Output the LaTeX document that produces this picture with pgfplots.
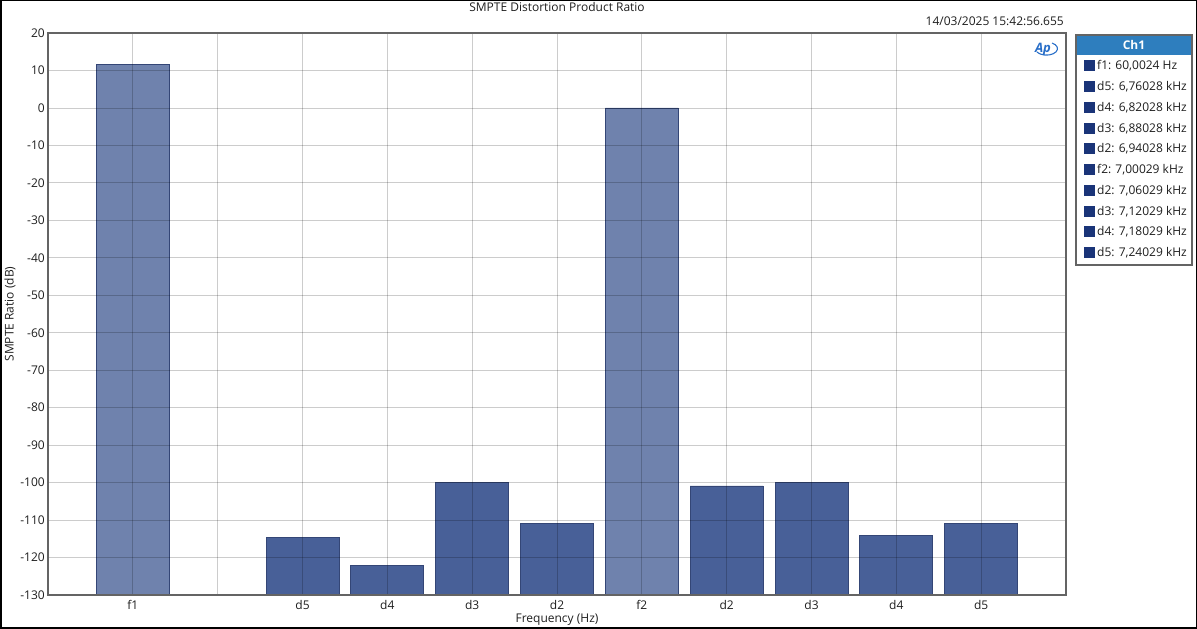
\documentclass[border=0pt]{standalone}
\usepackage{pgfplots}
\pgfplotsset{compat=1.18}
\usepackage{fontspec}
\setmainfont{Open Sans}
\definecolor{primbar}{RGB}{111,130,173}
\definecolor{distbar}{RGB}{72,96,152}
\definecolor{baredge}{RGB}{52,70,118}
\definecolor{legsq}{RGB}{26,52,120}
\definecolor{hdrblue}{RGB}{46,126,190}
\definecolor{axgray}{RGB}{100,100,100}
\definecolor{aplogo}{RGB}{40,110,200}
\definecolor{txt}{RGB}{30,30,30}
\begin{document}
\begin{tikzpicture}[x=1pt,y=1pt,font=\fontsize{12}{14}\selectfont]
\useasboundingbox (0,0) rectangle (1197,629);
\begin{axis}[
  at={(48pt,34pt)}, anchor=south west,
  width=1018pt, height=562pt, scale only axis,
  xmin=0, xmax=12, ymin=-130, ymax=20,
  y coord trafo/.code={\pgfmathparse{#1+130}},
  y coord inv trafo/.code={\pgfmathparse{#1-130}},
  ybar, bar width=73pt, bar shift=0pt,
  xtick={1,...,11},
  xticklabels={f1,,d5,d4,d3,d2,f2,d2,d3,d4,d5},
  ytick={-130,-120,...,20},
  yticklabels={-130,-120,-110,-100,-90,-80,-70,-60,-50,-40,-30,-20,-10,0,10,20},
  grid=major,
  major grid style={draw=black, draw opacity=0.2, line width=0.8pt},
  axis on top,
  major tick length=0pt,
  axis line style={draw=axgray, line width=1.2pt},
  tick label style={font=\fontsize{12}{14}\selectfont, text=txt},
  xticklabel style={inner sep=0pt, yshift=-5pt},
  yticklabel style={inner sep=0pt, xshift=-3pt},
  xlabel={Frequency (Hz)}, ylabel={SMPTE Ratio (dB)},
  label style={font=\fontsize{12}{14}\selectfont, text=txt},
  xlabel style={at={(axis description cs:0.5,-0.0445)}, anchor=center, inner sep=0pt},
  ylabel style={at={(axis description cs:-0.0373,0.5)}, anchor=center, inner sep=0pt},
]
\addplot[fill=primbar, draw=baredge, line width=0.8pt] coordinates {(1,11.7) (7,0)};
\addplot[fill=distbar, draw=baredge, line width=0.8pt] coordinates {
(3,-114.6) (4,-122.2) (5,-99.9) (6,-110.8) (8,-100.9) (9,-99.9) (10,-114.1) (11,-110.8)};
\end{axis}
% title and timestamp
\node[text=txt] at (557,622) {SMPTE Distortion Product Ratio};
\node[text=txt, anchor=east, inner sep=0pt] at (1064,608) {14/03/2025 15:42:56.655};
% AP logo
\draw[aplogo, line width=1.1pt] (1052,586) arc (60:-150:11pt and 6.5pt);
\node[text=aplogo, font=\bfseries\itshape\fontsize{13}{13}\selectfont] at (1043,580) {Ap};
% legend frame and header
\fill[hdrblue] (1076,594) rectangle (1192,574);
\node[text=white, font=\bfseries\fontsize{12}{14}\selectfont] at (1134,584) {Ch1};
\foreach \lab [count=\i from 0] in {f1: 60{,}0024 Hz, d5: 6{,}76028 kHz, d4: 6{,}82028 kHz,
  d3: 6{,}88028 kHz, d2: 6{,}94028 kHz, f2: 7{,}00029 kHz, d2: 7{,}06029 kHz,
  d3: 7{,}12029 kHz, d4: 7{,}18029 kHz, d5: 7{,}24029 kHz} {
  \pgfmathsetmacro{\yy}{629-66-\i*20.75}
  \fill[legsq] (1083.5,\yy-5.5) rectangle (1094.5,\yy+5.5);
  \node[text=txt, anchor=base west, inner sep=0pt] at (1097,\yy-4) {\lab};
}
\draw[axgray, line width=1.2pt] (1076,594) rectangle (1192,364);
% outer frame
\draw[black, line width=1.5pt] (0.75,0.75) rectangle (1196.25,628.25);
\end{tikzpicture}
\end{document}
